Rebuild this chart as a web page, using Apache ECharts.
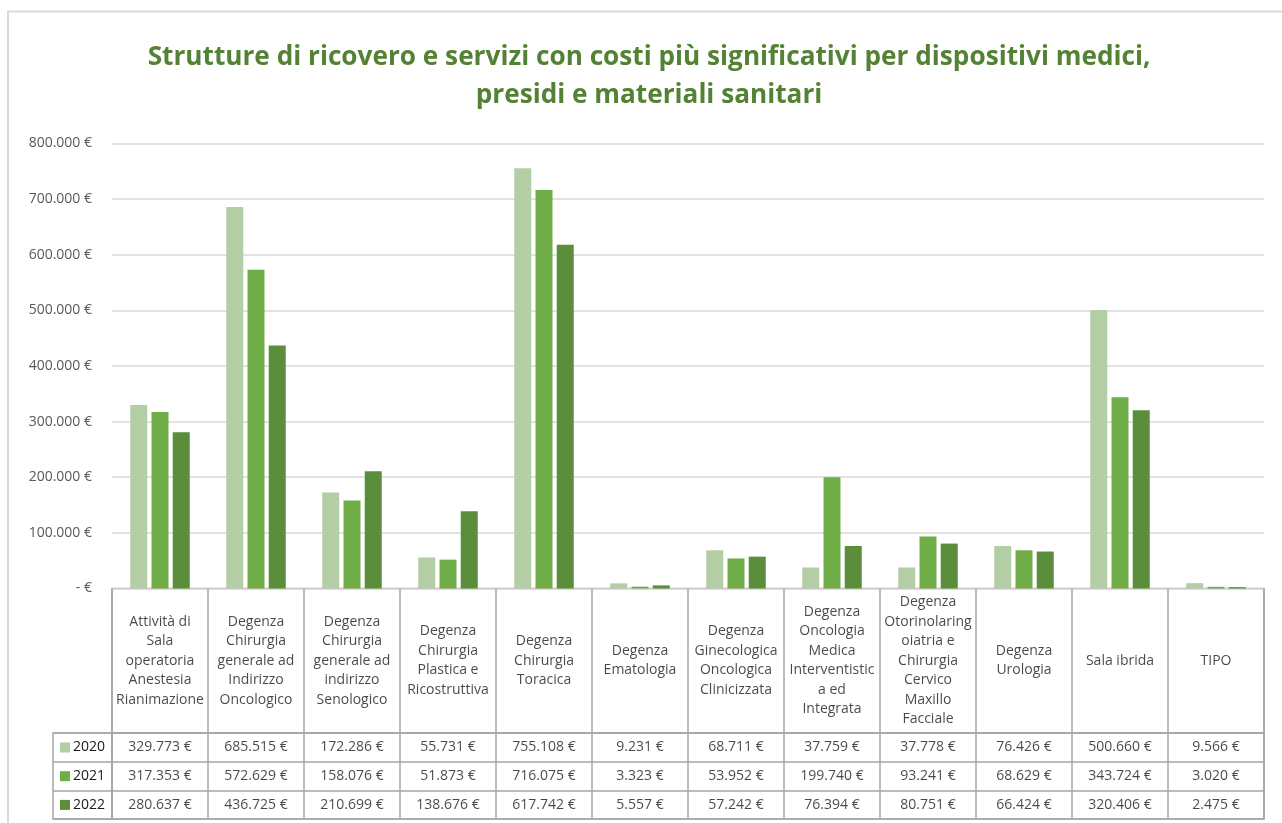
<!DOCTYPE html>
<html>
<head>
<meta charset="utf-8">
<script src="https://cdn.jsdelivr.net/npm/echarts@6/dist/echarts.min.js"></script>
<style>
  html, body { margin: 0; padding: 0; background: #fff; }
  #chart { width: 1282px; height: 823px; }
</style>
</head>
<body>
<div id="chart"></div>
<script>
// Reparti / servizi (le interruzioni di riga sono quelle della tabella dati)
const categories = [
  'Attività di\nSala\noperatoria\nAnestesia\nRianimazione',
  'Degenza\nChirurgia\ngenerale ad\nIndirizzo\nOncologico',
  'Degenza\nChirurgia\ngenerale ad\nindirizzo\nSenologico',
  'Degenza\nChirurgia\nPlastica e\nRicostruttiva',
  'Degenza\nChirurgia\nToracica',
  'Degenza\nEmatologia',
  'Degenza\nGinecologica\nOncologica\nClinicizzata',
  'Degenza\nOncologia\nMedica\nInterventistic\na ed\nIntegrata',
  'Degenza\nOtorinolaring\noiatria e\nChirurgia\nCervico\nMaxillo\nFacciale',
  'Degenza\nUrologia',
  'Sala ibrida',
  'TIPO'
];

const years = ['2020', '2021', '2022'];

// Costi in euro per anno
const costi2020 = [329773, 685515, 172286, 55731, 755108, 9231, 68711, 37759, 37778, 76426, 500660, 9566];
const costi2021 = [317353, 572629, 158076, 51873, 716075, 3323, 53952, 199740, 93241, 68629, 343724, 3020];
const costi2022 = [280637, 436725, 210699, 138676, 617742, 5557, 57242, 76394, 80751, 66424, 320406, 2475];

const yearColors = ['#B3CEA5', '#70AD47', '#5A8E3A'];
const seriesValues = [costi2020, costi2021, costi2022];

function euro(v) {
  if (v === 0) return '- €';
  return String(v).replace(/\B(?=(\d{3})+(?!\d))/g, '.') + ' €';
}

const FONT = "'Open Sans', 'Noto Sans', sans-serif";
const GRID_LINE = '#A6A6A6';
const TXT = '#1a1a1a';

const plotLeft = 112, plotWidth = 1152;

const chart = echarts.init(document.getElementById('chart'), null, { renderer: 'canvas' });

// Bar series (main plot)
const barSeries = years.map((y, k) => ({
  name: y,
  type: 'bar',
  xAxisIndex: 0,
  yAxisIndex: 0,
  data: seriesValues[k],
  barWidth: 17,
  barGap: '25%',
  itemStyle: { color: yearColors[k] },
  silent: true
}));

// Header row of the data table: category names
const headerSeries = {
  name: 'intestazione',
  type: 'scatter',
  xAxisIndex: 1,
  yAxisIndex: 1,
  symbolSize: 1,
  itemStyle: { color: 'rgba(0,0,0,0)' },
  silent: true,
  data: categories.map((c, i) => [i, 0]),
  label: {
    show: true,
    position: 'inside',
    formatter: p => categories[p.dataIndex],
    color: TXT,
    fontFamily: FONT,
    fontSize: 14,
    lineHeight: 19.5,
    align: 'center',
    verticalAlign: 'middle'
  }
};

// Value rows of the data table
const valueSeries = years.map((y, k) => ({
  name: 'tabella ' + y,
  type: 'scatter',
  xAxisIndex: 2,
  yAxisIndex: 2,
  symbolSize: 1,
  itemStyle: { color: 'rgba(0,0,0,0)' },
  silent: true,
  data: seriesValues[k].map((v, i) => [i, k, v]),
  label: {
    show: true,
    position: 'inside',
    formatter: p => euro(p.value[2]),
    color: TXT,
    fontFamily: FONT,
    fontSize: 14,
    align: 'center',
    verticalAlign: 'middle'
  }
}));

const tableGridStyle = { show: true, borderColor: GRID_LINE, borderWidth: 1.5, containLabel: false };
const tableSplit = { show: true, interval: 0, lineStyle: { color: GRID_LINE, width: 1.5 } };

const option = {
  backgroundColor: '#ffffff',
  animation: false,
  title: {
    text: 'Strutture di ricovero e servizi con costi più significativi per dispositivi medici,\npresidi e materiali sanitari',
    left: 649,
    top: 39,
    padding: 0,
    textAlign: 'center',
    textStyle: {
      color: '#548235',
      fontFamily: FONT,
      fontWeight: 'bold',
      fontSize: 26.2,
      lineHeight: 38
    }
  },
  legend: {
    data: years,
    orient: 'vertical',
    left: 60,
    top: 739.5,
    padding: 0,
    itemWidth: 10,
    itemHeight: 10,
    itemGap: 12.7,
    icon: 'rect',
    selectedMode: false,
    textStyle: { color: TXT, fontFamily: FONT, fontSize: 14, lineHeight: 16, padding: [0, 0, 0, -2] }
  },
  graphic: [{
    type: 'rect',
    shape: { x: 8, y: 11.5, width: 1320, height: 900 },
    style: { fill: 'none', stroke: '#D9D9D9', lineWidth: 2 },
    silent: true,
    z: -10
  }],
  grid: [
    { left: plotLeft, width: plotWidth, top: 143.3, height: 445.2 },
    Object.assign({ left: plotLeft, width: plotWidth, top: 588.5, height: 144.5 }, tableGridStyle),
    Object.assign({ left: plotLeft, width: plotWidth, top: 733, height: 86 }, tableGridStyle),
    Object.assign({ left: 53, width: 59, top: 733, height: 86 }, tableGridStyle)
  ],
  xAxis: [
    { type: 'category', gridIndex: 0, data: categories, axisLine: { show: false }, axisTick: { show: false }, axisLabel: { show: false } },
    { type: 'category', gridIndex: 1, data: categories, axisLine: { show: false }, axisTick: { show: false }, axisLabel: { show: false }, splitLine: tableSplit },
    { type: 'category', gridIndex: 2, data: categories, axisLine: { show: false }, axisTick: { show: false }, axisLabel: { show: false }, splitLine: tableSplit },
    { type: 'category', gridIndex: 3, data: ['anno'], axisLine: { show: false }, axisTick: { show: false }, axisLabel: { show: false } }
  ],
  yAxis: [
    {
      type: 'value', gridIndex: 0, min: 0, max: 800000, interval: 100000,
      axisLine: { show: false }, axisTick: { show: false },
      splitLine: { show: true, lineStyle: { color: '#D9D9D9', width: 1.5 } },
      axisLabel: { formatter: euro, color: '#595959', fontFamily: FONT, fontSize: 14, margin: 20 }
    },
    { type: 'category', gridIndex: 1, data: ['intestazione'], show: false },
    { type: 'category', gridIndex: 2, data: years, inverse: true, axisLine: { show: false }, axisTick: { show: false }, axisLabel: { show: false }, splitLine: tableSplit },
    { type: 'category', gridIndex: 3, data: years, inverse: true, axisLine: { show: false }, axisTick: { show: false }, axisLabel: { show: false }, splitLine: tableSplit }
  ],
  series: [...barSeries, headerSeries, ...valueSeries]
};

chart.setOption(option);
</script>
</body>
</html>
